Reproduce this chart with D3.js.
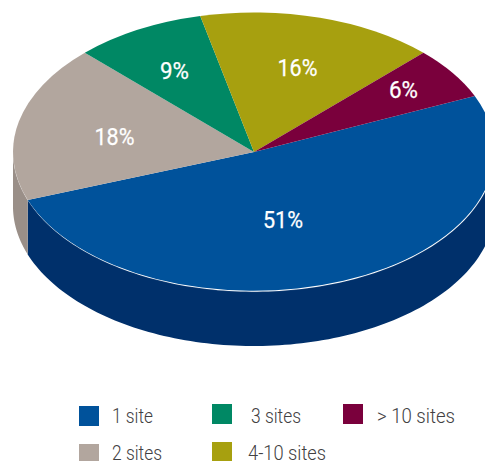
<!DOCTYPE html>
<html>
<head>
<meta charset="utf-8">
<style>html,body{margin:0;padding:0;background:#fff;overflow:hidden}svg{display:block}</style>
<script src="https://cdn.jsdelivr.net/npm/d3@7/dist/d3.min.js"></script>
</head>
<body>
<svg id="c" width="485" height="461"></svg>
<script>
const categories = ["1 site","2 sites","3 sites","4-10 sites","> 10 sites"];
const values = [51,18.2,8.8,16,6];
const labels = ["51%","18%","9%","16%","6%"];
const topColors = ["#00529b","#b2a69e","#008864","#a7a00f","#7a003c"];
const wallColors = ["#00306b","#9a8f88","#006048","#77720a","#55002a"];

const W=485,H=461,cx=254,cy=152.1,rx=241,ry=139.6,depth=54.3;
const svg=d3.select("#c");
const start=66.3*Math.PI/180;
const pie=d3.pie().sort(null).startAngle(start).endAngle(start+2*Math.PI).value(d=>d);
const arcs=pie(values);
const px=a=>cx+rx*Math.sin(a), py=a=>cy-ry*Math.cos(a);

// side walls: only the front part of the rim (angles between PI/2 and 3PI/2)
arcs.forEach((d,i)=>{
  const a0=Math.max(d.startAngle,Math.PI/2), a1=Math.min(d.endAngle,1.5*Math.PI);
  if(a1<=a0) return;
  const ts=d3.range(0,121).map(k=>a0+(a1-a0)*k/120);
  const area=d3.area().x(a=>px(a)).y0(a=>py(a)).y1(a=>py(a)+depth);
  svg.append("path").attr("d",area(ts)).attr("fill",wallColors[i]);
});

// top face: a circular pie squashed into an ellipse
const arc=d3.arc().innerRadius(0).outerRadius(1);
const topFace=svg.append("g").attr("transform",`translate(${cx},${cy}) scale(${rx},${ry})`);
topFace.selectAll("path").data(arcs).join("path")
  .attr("d",arc).attr("fill",(d,i)=>topColors[i]);

// faint highlight on the front rim
const rim=d3.range(0,201).map(k=>Math.PI/2+Math.PI*k/200);
svg.append("path").attr("d",d3.line().x(px).y(py)(rim))
  .attr("fill","none").attr("stroke","#fff").attr("stroke-opacity",.16).attr("stroke-width",.7);

// value labels
const labelPos=[[283,228],[114.5,145],[174.5,79],[297.5,76],[403.5,98]];
const labelWidths=[40,40,29,40,29];
svg.selectAll("text.v").data(labels).join("text").attr("class","v")
  .attr("x",(d,i)=>labelPos[i][0]).attr("y",(d,i)=>labelPos[i][1])
  .attr("text-anchor","middle")
  .attr("font-family","Roboto, 'Liberation Sans', sans-serif").attr("font-size",23.5).attr("font-weight",400)
  .attr("textLength",(d,i)=>labelWidths[i]).attr("lengthAdjust","spacingAndGlyphs")
  .attr("fill","#fff").attr("stroke","#fff").attr("stroke-width",.25).text(d=>d);

// legend
const legendPos=[
 {sx:79,sy:406,sh:20,tx:112,by:423,tw:41},
 {sx:79,sy:444,sh:17,tx:112,by:460,tw:50},
 {sx:212,sy:404,sh:20,tx:251,by:423,tw:50},
 {sx:212,sy:442,sh:19,tx:248,by:460,tw:78},
 {sx:343,sy:404,sh:20,tx:377,by:423,tw:78}
];
categories.forEach((c,i)=>{
  const p=legendPos[i];
  svg.append("rect").attr("x",p.sx).attr("y",p.sy).attr("width",20).attr("height",p.sh).attr("fill",topColors[i]);
  svg.append("text").attr("x",p.tx).attr("y",p.by)
    .attr("font-family","Roboto, 'Liberation Sans', sans-serif").attr("font-weight",300).attr("font-size",21)
    .attr("fill","#414042").attr("textLength",p.tw).attr("lengthAdjust","spacingAndGlyphs").text(c);
});
</script>
</body>
</html>
